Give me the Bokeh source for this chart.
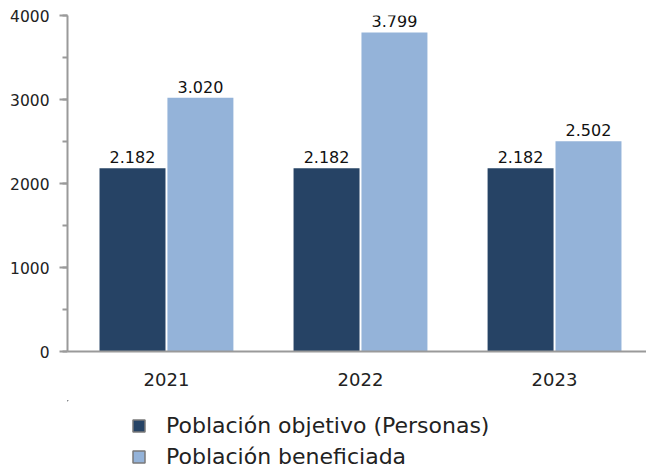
from bokeh.plotting import figure
from bokeh.layouts import column
from bokeh.models import Range1d, FixedTicker, SingleIntervalTicker, Legend, LegendItem, ColumnDataSource
from bokeh.core.properties import value
from bokeh.embed import file_html
from bokeh.resources import INLINE

years = ["2021", "2022", "2023"]
objetivo = [2182, 2182, 2182]
beneficiada = [3020, 3799, 2502]
series_names = ["Población objetivo (Personas)", "Población beneficiada"]
colors = ["#264365", "#94b3d9"]

def fmt(v):
    return f"{v:,}".replace(",", ".")

idx = list(range(len(years)))
off = 0.175
src1 = ColumnDataSource(dict(x=[i - off for i in idx], top=objetivo, lbl=[fmt(v) for v in objetivo]))
src2 = ColumnDataSource(dict(x=[i + off for i in idx], top=beneficiada, lbl=[fmt(v) for v in beneficiada]))

p = figure(width=646, height=400, output_backend="svg", toolbar_location=None,
           x_range=Range1d(-0.51, 2.474), y_range=Range1d(0, 4000),
           min_border_left=67, min_border_right=0, min_border_top=15, min_border_bottom=49)
p.outline_line_color = None
p.grid.grid_line_color = None

r1 = p.vbar(x="x", top="top", width=0.34, source=src1, fill_color=colors[0], line_color=None)
r2 = p.vbar(x="x", top="top", width=0.34, source=src2, fill_color=colors[1], line_color=None)

for s in (src1, src2):
    p.text(x="x", y="top", text="lbl", source=s, text_align="center", text_baseline="alphabetic",
           y_offset=-11, text_font_size="16px", text_color="#111111", text_font=value("DejaVu Sans"))

axis_color = "#9a9a9a"
p.xaxis.ticker = FixedTicker(ticks=idx)
p.xaxis.major_label_overrides = {i: y for i, y in zip(idx, years)}
p.xaxis.major_tick_line_color = None
p.xaxis.minor_tick_line_color = None
p.xaxis.axis_line_color = axis_color
p.xaxis.axis_line_width = 2
p.xaxis.major_label_text_font_size = "18px"
p.xaxis.major_label_text_font = "DejaVu Sans"
p.xaxis.major_label_text_color = "#222222"
p.xaxis.major_label_standoff = 15

p.yaxis.ticker = SingleIntervalTicker(interval=1000, num_minor_ticks=2)
p.yaxis.axis_line_color = axis_color
p.yaxis.axis_line_width = 2
p.yaxis.major_tick_line_color = axis_color
p.yaxis.major_tick_line_width = 2
p.yaxis.minor_tick_line_color = axis_color
p.yaxis.minor_tick_line_width = 2
p.yaxis.major_tick_out = 8
p.yaxis.major_tick_in = 0
p.yaxis.minor_tick_out = 5
p.yaxis.minor_tick_in = 0
p.yaxis.major_label_text_font_size = "15.5px"
p.yaxis.major_label_text_font = "DejaVu Sans"
p.yaxis.major_label_text_color = "#222222"
p.yaxis.major_label_standoff = 10

# legend panel below the chart (swatch renderers share the series data but lie far outside its view)
p2 = figure(width=646, height=70, output_backend="svg", toolbar_location=None,
            x_axis_type=None, y_axis_type=None, x_range=Range1d(100, 101), y_range=Range1d(-200000, -199999),
            min_border_left=0, min_border_right=0, min_border_top=0, min_border_bottom=0)
p2.outline_line_color = None
p2.grid.grid_line_color = None
l1 = p2.vbar(x="x", top="top", width=0.34, source=src1, fill_color=colors[0], line_color="#7a7a7a", line_width=1.5)
l2 = p2.vbar(x="x", top="top", width=0.34, source=src2, fill_color=colors[1], line_color="#7a7a7a", line_width=1.5)

legend = Legend(items=[LegendItem(label=series_names[0], renderers=[l1]),
                       LegendItem(label=series_names[1], renderers=[l2])],
                location=(64, 1), orientation="vertical",
                glyph_width=15, glyph_height=15, label_height=26, spacing=5,
                label_standoff=20, padding=0, margin=0,
                border_line_color=None, background_fill_alpha=0,
                label_text_font_size="22px", label_text_font="DejaVu Sans",
                label_text_color="#222222")
p2.add_layout(legend, "center")

open("out.html", "w").write(file_html(column(p, p2, spacing=0), INLINE))
